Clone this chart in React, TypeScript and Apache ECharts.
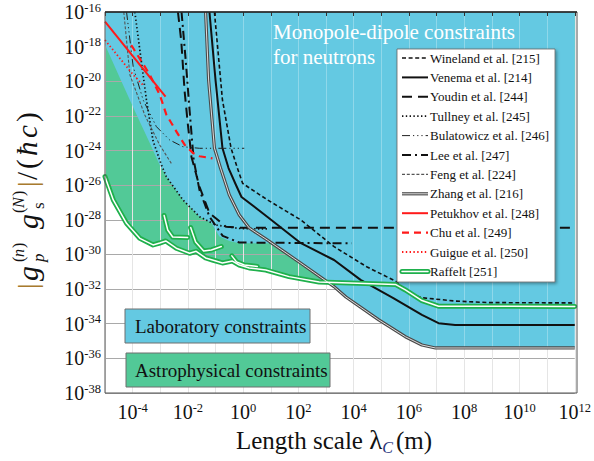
import React, { useEffect, useRef } from "react";
import * as echarts from "echarts";

type P = [number, number];

// axis ranges (log10 exponents)
const X_MIN = -5;
const X_MAX = 12;
const Y_MIN = -38;
const Y_MAX = -16;

// curves, as [log10(lambda / m), log10(|g_p g_s|/(hbar c))]
const wineland: P[] = [[-1.04, -16], [-0.75, -21.08], [-0.44, -23.85], [-0.21, -25.01], [-0.02, -25.89], [0.16, -26.09], [0.88, -26.85], [2.09, -28.01], [3.29, -29.55], [4.47, -30.71], [5.55, -31.57], [5.99, -32.24], [6.47, -32.5], [7.67, -32.69], [8.87, -32.78], [12, -32.8]];
const venema: P[] = [[-1.22, -16], [-1.0, -19.93], [-0.75, -23.85], [-0.53, -25.01], [-0.26, -25.99], [-0.06, -26.68], [0.87, -27.82], [2.09, -29.35], [3.29, -30.32], [4.25, -31.47], [5.45, -32.53], [6.47, -33.49], [7.07, -33.97], [7.67, -34.07], [12, -34.07]];
const youdin: P[] = [[-2.36, -16], [-2.24, -17.67], [-2.12, -20.56], [-2.0, -22.51], [-1.87, -24.37], [-1.58, -26.09], [-1.22, -27.61], [-0.62, -28.4], [-0.14, -28.46], [12, -28.46]];
const tullney: P[] = [[-3.92, -16], [-3.74, -18.19], [-3.5, -21.08], [-3.26, -23.45], [-2.96, -24.82], [-2.78, -25.51], [-2.18, -26.85], [-1.58, -27.82], [-0.98, -28.3], [-0.14, -28.5], [0.94, -28.53]];
const bulatowicz: P[] = [[-4.22, -16], [-3.98, -19.16], [-3.62, -21.08], [-3.14, -22.62], [-2.66, -23.39], [-2.18, -23.78], [-1.58, -23.87], [0.04, -23.87]];
const lee: P[] = [[-2.23, -16], [-2.08, -18.77], [-1.94, -21.66], [-1.79, -24.55], [-1.58, -26.28], [-1.22, -27.82], [-0.74, -28.93], [-0.14, -29.31], [3.93, -29.36]];
const feng: P[] = [[-4.32, -16], [-4.1, -19.62], [-3.56, -21.95], [-3.02, -23.68], [-2.6, -24.74]];
const zhang: P[] = [[-1.36, -16], [-1.25, -19.93], [-1.04, -23.85], [-0.82, -25.01], [-0.5, -26.57], [-0.14, -27.72], [0.22, -28.47], [0.87, -29.16], [2.09, -30.51], [3.29, -31.86], [3.72, -32.46], [4.91, -33.78], [5.87, -34.75], [6.47, -35.23], [6.96, -35.4], [12, -35.4]];
const petukhov: P[] = [[-5, -16.56], [-2.81, -20.89]];
const chu: P[] = [[-4.05, -17.91], [-3.38, -19.62], [-3.02, -20.77], [-2.78, -21.93], [-2.42, -22.89], [-2.12, -23.66], [-1.82, -24.14], [-1.58, -24.33], [-1.11, -24.45]];
const guigue: P[] = [[-5, -17.62], [-3.98, -19.62], [-3.63, -20.21]];
const raffeltMain: P[] = [[-5, -25.51], [-4.7, -26.85], [-4.22, -28.2], [-3.74, -29.07], [-3.26, -29.45], [-3.02, -29.34], [-2.8, -29.22], [-2.42, -29.64], [-1.94, -29.93], [-1.7, -29.82], [-1.36, -30.2], [-1.11, -30.32], [-0.75, -30.49], [-0.39, -30.38], [-0.14, -30.61], [0.22, -30.78], [0.82, -30.9], [1.66, -31.28], [2.75, -31.59], [5.51, -31.73], [5.87, -32.05], [6.47, -32.66], [7.07, -32.99], [12, -33.0]];
const raffeltHook1: P[] = [[-2.86, -27.75], [-2.73, -28.59], [-2.55, -28.99], [-2.01, -29.02]];
const raffeltHook2: P[] = [[-1.9, -28.45], [-1.72, -29.28], [-1.43, -29.8], [-1.15, -29.74], [-0.79, -29.54]];
const raffeltHook3: P[] = [[-0.41, -30.08], [-0.24, -30.43], [0.04, -30.61], [0.51, -30.69]];
// lower envelope of all laboratory limits
const labBoundary: P[] = [[-5, -17.89], [-4.46, -19.81], [-3.92, -21.72], [-3.38, -23.56], [-3.02, -24.83], [-2.78, -25.51], [-2.18, -26.85], [-1.58, -27.82], [-1.15, -28.18], [-0.86, -28.97], [-0.5, -29.22], [-0.14, -29.35], [0.95, -29.35], [2.09, -30.51], [3.29, -31.86], [3.72, -32.46], [4.91, -33.78], [5.87, -34.75], [6.47, -35.23], [6.96, -35.4], [12, -35.4]];

const legendNames = [
  "Wineland et al. [215]",
  "Venema et al. [214]",
  "Youdin et al. [244]",
  "Tullney et al. [245]",
  "Bulatowicz et al. [246]",
  "Lee et al. [247]",
  "Feng et al. [224]",
  "Zhang et al. [216]",
  "Petukhov et al. [248]",
  "Chu et al. [249]",
  "Guigue et al. [250]",
  "Raffelt [251]",
];

const SERIF = "'Liberation Serif', 'Times New Roman', Times, serif";
const BLUE = "#64c9e2";
const GREEN_FILL = "#52c997";
const GREEN_LINE = "#1fb04c";
const RED = "#ff1a1a";
const GOLD = "#a87a2e";

type St = { color: string; width: number; dash?: number[]; cap?: string };
const styles: St[][] = [
  [{ color: "#111", width: 1.6, dash: [4, 2.6] }],
  [{ color: "#111", width: 2 }],
  [{ color: "#111", width: 2, dash: [10, 6] }],
  [{ color: "#111", width: 1.7, dash: [1.4, 2.4] }],
  [{ color: "#222", width: 1, dash: [8, 3, 1.2, 3, 1.2, 3, 1.2, 3] }],
  [{ color: "#111", width: 2, dash: [9, 4, 2, 4] }],
  [{ color: "#555", width: 1.1, dash: [3, 1.8] }],
  [{ color: "#4a4a4a", width: 3.2 }, { color: "#dedede", width: 1 }],
  [{ color: RED, width: 2 }],
  [{ color: RED, width: 2.2, dash: [7, 5] }],
  [{ color: RED, width: 1.8, dash: [1.4, 2.4] }],
  [{ color: GREEN_LINE, width: 5, cap: "round" }, { color: "#ffffff", width: 1.5, cap: "round" }],
];
const curves: P[][][] = [
  [wineland],
  [venema],
  [youdin],
  [tullney],
  [bulatowicz],
  [lee],
  [feng],
  [zhang],
  [petukhov],
  [chu],
  [guigue],
  [raffeltMain, raffeltHook1, raffeltHook2, raffeltHook3],
];

export default function App() {
  const ref = useRef<HTMLDivElement>(null);
  useEffect(() => {
    if (!ref.current) return;
    const chart = echarts.init(ref.current, undefined, { renderer: "svg" });

    const series: any[] = [
      {
        type: "line", data: raffeltMain, symbol: "none", silent: true, z: 1,
        lineStyle: { width: 0 }, areaStyle: { color: GREEN_FILL, opacity: 1, origin: "end" },
      },
      {
        type: "line", data: labBoundary, symbol: "none", silent: true, z: 3,
        lineStyle: { width: 0 }, areaStyle: { color: BLUE, opacity: 1, origin: "end" },
      },
    ];
    curves.forEach((group, gi) => {
      group.forEach((data) => {
        styles[gi].forEach((s, k) => {
          series.push({
            type: "line", data, symbol: "none", silent: true, z: 6 + k,
            lineStyle: { color: s.color, width: s.width, type: s.dash ? s.dash : "solid", cap: s.cap || "butt", join: "round" },
          });
        });
      });
    });

    const legendChildren: any[] = [];
    const lx0 = 402, lx1 = 428, ly0 = 58, dy = 19.4;
    legendNames.forEach((name, i) => {
      const y = ly0 + i * dy;
      styles[i].forEach((s) => {
        legendChildren.push({
          type: "line", z: 101,
          shape: { x1: lx0, y1: y, x2: lx1, y2: y },
          style: { stroke: s.color, lineWidth: s.width, lineDash: s.dash || null, lineCap: s.cap || "butt" },
        });
      });
      legendChildren.push({
        type: "text", z: 101, x: lx1 + 2, y: y,
        style: { text: name, font: `13px ${SERIF}`, fill: "#111", align: "left", verticalAlign: "middle" },
      });
    });

    const ital = (t: string, x: number, y: number, size: number, italic = true, fill = "#111") => ({
      type: "text", x, y,
      style: { text: t, font: `${italic ? "italic " : ""}${size}px ${SERIF}`, fill, align: "left", verticalAlign: "middle" },
    });

    const yTitle = {
      type: "group", x: 27, y: 289, rotation: Math.PI / 2, z: 100,
      children: [
        ital("|", 0, 0, 28, false, GOLD),
        ital("g", 8, 0, 30),
        ital("(", 27, -9, 16, false), ital("n", 32, -9, 16), ital(")", 41, -9, 16, false),
        ital("p", 27, 11, 17),
        ital("g", 60, 0, 30),
        ital("(", 76, -9, 16, false), ital("N", 81, -9, 16), ital(")", 93, -9, 16, false),
        ital("s", 80, 11, 17, false),
        ital("|", 102, 0, 28, false, GOLD),
        ital("/", 109, 0, 29, false),
        ital("(", 120, 0, 29, false),
        ital("ħ", 133, 0, 29),
        ital("c", 151, 0, 29),
        ital(")", 167, 0, 29, false),
      ],
    };

    const option: any = {
      animation: false,
      backgroundColor: "#ffffff",
      grid: { left: 105, right: 17, top: 12, bottom: 68, containLabel: false },
      xAxis: [
        {
          type: "value", min: X_MIN, max: X_MAX, interval: 1, z: 2,
          axisLine: { show: false },
          axisTick: { show: false },
          splitLine: { show: true, lineStyle: { color: "#dcdcdc", width: 1 } },
          axisLabel: {
            margin: 8,
            formatter: (v: number) => (v % 2 === 0 ? `{b|10}{s|${v}}` : ""),
            rich: {
              b: { fontSize: 20, fontFamily: SERIF, color: "#111", lineHeight: 22 },
              s: { fontSize: 12.5, fontFamily: SERIF, color: "#111", verticalAlign: "top", lineHeight: 14 },
            },
          },
        },
        {
          type: "value", min: X_MIN, max: X_MAX, interval: 1, z: 4, position: "top",
          axisLine: { show: false },
          axisTick: { show: true, inside: true, length: 4, lineStyle: { color: "#333", width: 1 } },
          splitLine: { show: true, lineStyle: { color: "rgba(255,255,255,0.28)", width: 1 } },
          axisLabel: { show: false },
        },
      ],
      yAxis: [
        {
          type: "value", min: Y_MIN, max: Y_MAX, interval: 2, z: 2,
          axisLine: { show: false },
          axisTick: { show: false },
          splitLine: { show: true, lineStyle: { color: "#a9a9a9", width: 1 } },
          axisLabel: {
            margin: 4,
            formatter: (v: number) => `{b|10}{s|${v}}`,
            rich: {
              b: { fontSize: 20, fontFamily: SERIF, color: "#111", lineHeight: 22 },
              s: { fontSize: 12.5, fontFamily: SERIF, color: "#111", verticalAlign: "top", lineHeight: 14 },
            },
          },
        },
      ],
      series,
      graphic: [
        {
          type: "rect", z: 50, silent: true,
          shape: { x: 105, y: 12, width: 472, height: 381 },
          style: { fill: null, stroke: "#555", lineWidth: 1 },
        },
        {
          type: "line", z: 51, silent: true,
          shape: { x1: 105, y1: 12, x2: 577, y2: 12 },
          style: { stroke: "#222", lineWidth: 1.3 },
        },
        {
          type: "text", z: 60, x: 273, y: 32,
          style: { text: "Monopole-dipole constraints", font: `21px ${SERIF}`, fill: "#ffffff", align: "left", verticalAlign: "middle" },
        },
        {
          type: "text", z: 60, x: 273, y: 57,
          style: { text: "for neutrons", font: `21px ${SERIF}`, fill: "#ffffff", align: "left", verticalAlign: "middle" },
        },
        {
          type: "rect", z: 100,
          shape: { x: 397, y: 49, width: 158, height: 233 },
          style: { fill: "#ffffff", stroke: "#666", lineWidth: 0.8, shadowBlur: 3, shadowColor: "rgba(0,0,0,0.35)", shadowOffsetX: 1.5, shadowOffsetY: 1.5 },
        },
        ...legendChildren,
        {
          type: "rect", z: 100,
          shape: { x: 125, y: 309, width: 185, height: 34 },
          style: { fill: BLUE, stroke: "#6f6f6f", lineWidth: 1 },
        },
        {
          type: "text", z: 101, x: 135, y: 326.5,
          style: { text: "Laboratory constraints", font: `19px ${SERIF}`, fill: "#111", align: "left", verticalAlign: "middle" },
        },
        {
          type: "rect", z: 100,
          shape: { x: 126, y: 353, width: 204, height: 34 },
          style: { fill: GREEN_FILL, stroke: "#6f6f6f", lineWidth: 1 },
        },
        {
          type: "text", z: 101, x: 135, y: 370,
          style: { text: "Astrophysical constraints", font: `19px ${SERIF}`, fill: "#111", align: "left", verticalAlign: "middle" },
        },
        {
          type: "text", z: 100, x: 334, y: 440,
          style: {
            text: "{n|Length scale }{l|λ}{c|C}{n|(m)}",
            align: "center", verticalAlign: "middle",
            rich: {
              n: { fontSize: 25, fontFamily: SERIF, fill: "#111", lineHeight: 30 },
              l: { fontSize: 27, fontFamily: SERIF, fill: "#111", lineHeight: 30 },
              c: { fontSize: 16, fontFamily: SERIF, fontStyle: "italic", fill: "#27347c", verticalAlign: "bottom", lineHeight: 30, padding: [0, 3, 0, 0] },
            },
          },
        },
        yTitle,
      ],
    };
    chart.setOption(option);
    return () => chart.dispose();
  }, []);
  return <div ref={ref} style={{ position: "fixed", left: 0, top: 0, width: 594, height: 461, background: "#fff" }} />;
}
